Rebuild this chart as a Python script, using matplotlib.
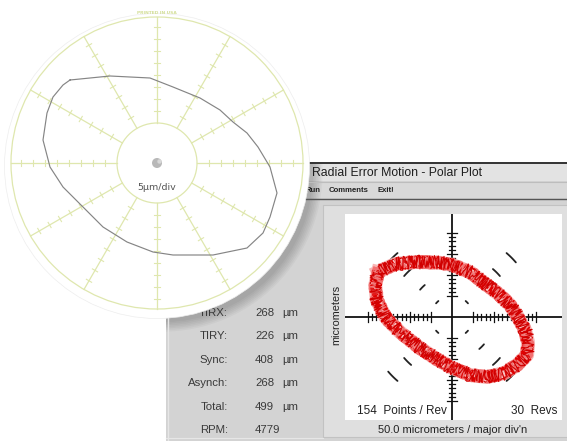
import matplotlib
matplotlib.use('Agg')
import matplotlib.pyplot as plt
import numpy as np
from matplotlib.patches import Rectangle, Circle

# ---------------- data ----------------
# Software polar plot (micrometres), red trace
trace_x = [-176, -136, -83, -29, 0, 43, 74, 114, 138, 157, 174, 181, 179, 155, 126, 83, 43, 0,
           -40, -76, -124, -159, -179, -183]
trace_y = [107, 126, 131, 129, 124, 107, 83, 52, 29, 0, -31, -60, -90, -114, -133, -143, -138, -121,
           -98, -74, -36, 0, 40, 76]
axis_ticks = [-200, -190, -180, -170, -160, -150, -140, -130, -120, -110, -100, -90, -80, -70, -60, -50,
              50, 60, 70, 80, 90, 100, 110, 120, 130, 140, 150, 160, 170, 180, 190, 200]
grid_radii = [50, 100, 150, 200]
grid_angles = [45, 135, 225, 315]

stat_labels = ["TIRX:", "TIRY:", "Sync:", "Asynch:", "Total:", "RPM:"]
stat_values = ["268", "226", "408", "268", "499", "4779"]
stat_units = ["µm", "µm", "µm", "µm", "µm", ""]

# Paper polar chart trace (chart units, outer ring = 146)
paper_x = [-87, -47, -7, 16, 43, 63, 76, 90, 101, 113, 120, 113, 106, 90, 56, 16, -4, -30, -54,
           -74, -94, -107, -114, -110, -104, -94]
paper_y = [83, 87, 85, 76, 65, 53, 41, 30, 16, -4, -30, -54, -70, -85, -92, -92, -89, -79, -64,
           -44, -24, -4, 23, 50, 66, 78]
spoke_angles = list(range(0, 360, 30))
spoke_tick_radii = [52, 64, 76, 88, 100, 112, 124, 136]

W, H = 567, 441
fig = plt.figure(figsize=(W / 100, H / 100), dpi=100)
fig.patch.set_facecolor('white')
FONT = 'Liberation Sans'

# ---------------- background window ----------------
bg = fig.add_axes([0, 0, 1, 1], zorder=0)
bg.set_xlim(0, W); bg.set_ylim(H, 0); bg.axis('off')
win = Rectangle((166, 162), W - 166, H - 162, fc='#d3d3d3', ec='none')
bg.add_patch(win)
bg.add_patch(Rectangle((166, 163), W - 166, 18, fc='#e3e3e3', ec='none'))
bg.add_patch(Rectangle((166, 182), W - 166, 16, fc='#d9d9d9', ec='none'))
bg.plot([166, W], [162.5, 162.5], color='#333333', lw=1.4)
bg.plot([166, W], [181.5, 181.5], color='#bdbdbd', lw=0.8)
bg.plot([166, W], [198.5, 198.5], color='#555555', lw=1.0)
bg.plot([168, 168], [199, H], color='#e6e6e6', lw=1.0)
bg.add_patch(Rectangle((323, 205), 246, 232, fc='#dfdfdf', ec='#c2c2c2', lw=0.8))
bg.plot([166, 323], [437.5, 437.5], color='#e6e6e6', lw=0.8)
# soft shadow of the paper disc, only visible on the window
for k in range(7):
    sh = Circle((163, 172), 150 + k * 1.6, fc='black', ec='none', alpha=0.03)
    bg.add_patch(sh)
    sh.set_clip_path(win)

# ---------------- software polar plot ----------------
ax = fig.add_axes([345 / W, (H - 420) / H, 217 / W, 206 / H], zorder=1)
ax.set_xlim(-255, 262); ax.set_ylim(-245, 245)
ax.set_facecolor('white')
for s in ax.spines.values():
    s.set_visible(False)
ax.set_xticks([]); ax.set_yticks([])
ax.axhline(0, color='#111111', lw=1.3)
ax.axvline(0, color='#111111', lw=1.3)
for t in axis_ticks:
    h = 11 if t % 50 == 0 else 6.5
    ax.plot([t, t], [-h, h], color='#111111', lw=0.9)
    ax.plot([-h, h], [t, t], color='#111111', lw=0.9)
for r in grid_radii:
    for a in grid_angles:
        th = np.radians(np.linspace(a - 4.5, a + 4.5, 8))
        ax.plot(r * np.cos(th), r * np.sin(th), color='#222222', lw=1.3, solid_capstyle='round')

tx = trace_x + trace_x[:1]
ty = trace_y + trace_y[:1]
ax.plot(tx, ty, color='#f6a8a8', lw=10, solid_joinstyle='round', alpha=0.85)
for lw, col, sk in [(6, '#f27070', (3, 3, 3)), (2.2, '#e21a1a', (4, 2.5, 4)),
                    (1.4, '#cc0000', (5, 2, 5)), (1.2, '#f8c0c0', (4, 2, 5)),
                    (1.0, '#e00000', (6, 1.5, 6)), (0.9, '#f07878', (5, 2, 4)),
                    (0.8, '#d00000', (7, 1.5, 7))]:
    ln, = ax.plot(tx, ty, color=col, lw=lw, solid_joinstyle='round')
    ln.set_sketch_params(*sk)

# ---------------- overlay texts ----------------
ov = fig.add_axes([0, 0, 1, 1], zorder=2)
ov.set_xlim(0, W); ov.set_ylim(H, 0); ov.axis('off')
ov.text(312, 172.5, "Radial Error Motion - Polar Plot", fontsize=8.8, family=FONT,
        color='#1e1e1e', va='center', ha='left')
ov.text(306, 190.5, "Run", fontsize=5.6, family=FONT, color='#222222', va='center', fontweight='bold')
ov.text(329, 190.5, "Comments", fontsize=5.6, family=FONT, color='#222222', va='center', fontweight='bold')
ov.text(377, 190.5, "Exit!", fontsize=5.6, family=FONT, color='#222222', va='center', fontweight='bold')
ov.text(357, 411, "154  Points / Rev", fontsize=8.5, family=FONT, color='#222222', va='center', ha='left')
ov.text(557, 411, "30  Revs", fontsize=8.5, family=FONT, color='#222222', va='center', ha='right')
ov.text(453, 430, "50.0 micrometers / major div'n", fontsize=8, family=FONT, color='#222222',
        va='center', ha='center')
ov.text(336, 315, "micrometers", fontsize=7.8, family=FONT, color='#222222', va='center',
        ha='center', rotation=90)
y0, dy = 313, 23.4
for i, (lab, val, un) in enumerate(zip(stat_labels, stat_values, stat_units)):
    y = y0 + i * dy
    ov.text(228, y, lab, fontsize=8.2, family=FONT, color='#3a3a3a', va='center', ha='right')
    ov.text(255, y, val, fontsize=8.2, family=FONT, color='#3a3a3a', va='center', ha='left')
    ov.text(282, y, un, fontsize=8.2, family=FONT, color='#3a3a3a', va='center', ha='left')

# ---------------- paper polar chart ----------------
cx, cy, RA = 157, 163, 175
pa = fig.add_axes([(cx - RA) / W, (H - cy - RA) / H, 2 * RA / W, 2 * RA / H], zorder=3)
pa.set_xlim(-RA, RA); pa.set_ylim(-RA, RA); pa.axis('off')
pa.patch.set_alpha(0)
pa.add_patch(Circle((0, -3), 152.5, fc='white', ec='#ededed', lw=0.5))
GC = '#dfe7ae'
pa.add_patch(Circle((0, 0), 146, fc='none', ec=GC, lw=0.9))
pa.add_patch(Circle((0, 0), 40, fc='none', ec=GC, lw=0.9))
for a in spoke_angles:
    th = np.radians(a)
    c, s = np.cos(th), np.sin(th)
    pa.plot([40 * c, 146 * c], [40 * s, 146 * s], color=GC, lw=0.9)
    for r in spoke_tick_radii:
        h = 3.0
        pa.plot([r * c - h * s, r * c + h * s], [r * s + h * c, r * s - h * c], color=GC, lw=0.8)
pa.text(0, 150, "PRINTED IN USA", fontsize=3.2, color='#d3de96', ha='center', va='center',
        family='DejaVu Sans', fontweight='bold')
pa.add_patch(Circle((0, 0), 5, fc='#b8b8b8', ec='none'))
pa.add_patch(Circle((2.5, 1.5), 2.2, fc='#d8d8d8', ec='none'))
pa.text(0, -24, "5µm/div", fontsize=6.8, color='#555555', ha='center', va='center', family='DejaVu Sans')
pa.plot(paper_x + paper_x[:1], paper_y + paper_y[:1], color='#858585', lw=0.85, solid_joinstyle='round')

fig.savefig('out.png', dpi=100, facecolor='white')
